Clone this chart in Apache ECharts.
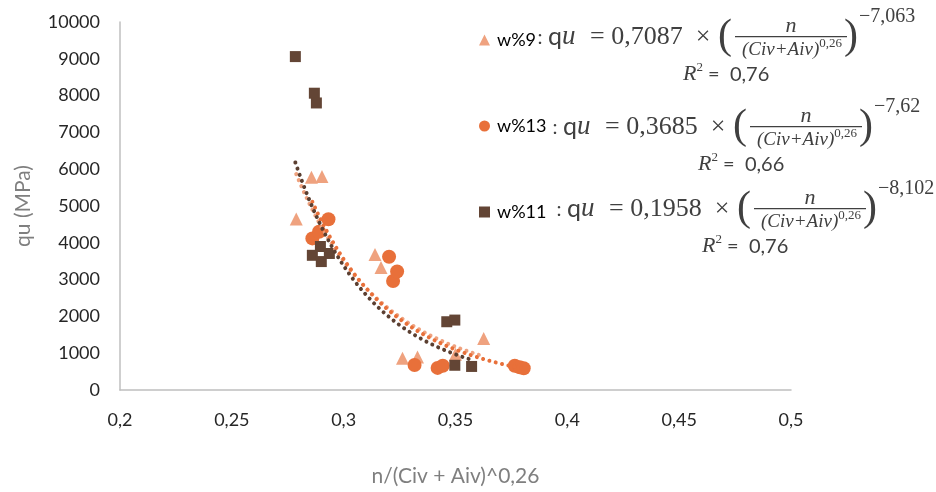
<!DOCTYPE html>
<html>
<head>
<meta charset="utf-8">
<script src="https://cdn.jsdelivr.net/npm/echarts@6/dist/echarts.min.js"></script>
<style>
  html, body { margin: 0; padding: 0; background: #ffffff; }
  #chart { width: 936px; height: 492px; }
</style>
</head>
<body>
<div id="chart"></div>
<script>
// Series names (legend order)
const seriesNames = ['w%9', 'w%13', 'w%11'];

// w%9 measurements
const w9X = [0.2788, 0.2856, 0.2903, 0.3140, 0.3167, 0.3263, 0.3330, 0.3500, 0.3626];
const w9Y = [4650, 5780, 5800, 3680, 3330, 860, 900, 970, 1400];

// w%13 measurements
const w13X = [0.2860, 0.2890, 0.2932, 0.3203, 0.3221, 0.3239, 0.3317, 0.3420, 0.3443, 0.3765, 0.3787, 0.3805];
const w13Y = [4120, 4300, 4640, 3620, 2960, 3220, 680, 600, 660, 660, 620, 590];

// w%11 measurements
const w11X = [0.2784, 0.2869, 0.2878, 0.2860, 0.2896, 0.2900, 0.2936, 0.3461, 0.3497, 0.3497, 0.3572];
const w11Y = [9060, 8065, 7800, 3660, 3900, 3490, 3710, 1855, 1900, 672, 640];

// Power-law fits qu = a * x^b and their R²
const fitCoef = [0.7087, 0.3685, 0.1958];
const fitExp = [-7.063, -7.62, -8.102];
const fitR2 = [0.76, 0.66, 0.76];

// Axis ticks
const xTickValues = [0.2, 0.25, 0.3, 0.35, 0.4, 0.45, 0.5];
const yTickValues = [0, 1000, 2000, 3000, 4000, 5000, 6000, 7000, 8000, 9000, 10000];

const xs = [w9X, w13X, w11X];
const ys = [w9Y, w13Y, w11Y];
const markColors = ['#EFA27F', '#E8703A', '#634535'];
const lineColors = ['#EFA27F', '#E8703A', '#5B3F31'];
const symbols = ['triangle', 'circle', 'rect'];
const symbolSizes = [13, 14, 11];

const comma = v => String(v).replace('.', ',');
const signed = v => (v < 0 ? '\u2212' + comma(-v) : comma(v));

function pairs(xArr, yArr) {
  return xArr.map((x, i) => [x, yArr[i]]);
}

// Trend curve from the fitted equation, spanning the series' x range
function trendCurve(i) {
  const lo = Math.min(...xs[i]);
  const hi = Math.max(...xs[i]);
  const n = 80;
  const pts = [];
  for (let k = 0; k <= n; k++) {
    const x = lo + (hi - lo) * k / n;
    pts.push([x, fitCoef[i] * Math.pow(x, fitExp[i])]);
  }
  return pts;
}

const scatterSeries = seriesNames.map((name, i) => ({
  name: name,
  type: 'scatter',
  data: pairs(xs[i], ys[i]),
  symbol: symbols[i],
  symbolSize: symbolSizes[i],
  itemStyle: { color: markColors[i], opacity: 1 },
  z: 2 + i,
  silent: true
}));

const trendSeries = seriesNames.map((name, i) => ({
  name: name + ' fit',
  type: 'line',
  data: trendCurve(i),
  showSymbol: false,
  smooth: false,
  lineStyle: { color: lineColors[i], width: 4, type: [0.01, 6.5], cap: 'round' },
  z: 10 + i,
  silent: true
}));

// Equation annotation blocks (anchor = left of "qu", vertical centre)
const eqAnchors = [[548, 37], [563, 127], [567, 209]];
const legendTops = [31, 117, 203];
const mathFont = '"Liberation Serif", "DejaVu Serif", serif';
const textColor = '#404040';

function equationBlock(i) {
  const bx = eqAnchors[i][0];
  const by = eqAnchors[i][1];
  const els = [];
  els.push({
    type: 'text', x: bx - 8, y: by + 1,
    style: { text: ':', font: '20px Lato, sans-serif', fill: textColor, align: 'center', verticalAlign: 'middle' }
  });
  els.push({
    type: 'text', x: bx, y: by,
    style: {
      text: '{q|q}{u|u}', align: 'left', verticalAlign: 'middle',
      rich: {
        q: { font: '25px Lato, sans-serif', fill: textColor },
        u: { font: 'italic 27px ' + mathFont, fill: textColor }
      }
    }
  });
  els.push({
    type: 'text', x: bx + 42, y: by,
    style: { text: '= ' + comma(fitCoef[i]) + '  \u00D7', font: '26px ' + mathFont, fill: textColor, align: 'left', verticalAlign: 'middle' }
  });
  els.push({
    type: 'text', x: bx + 177, y: by,
    style: { text: '(', font: '42px ' + mathFont, fill: textColor, align: 'center', verticalAlign: 'middle' }
  });
  els.push({
    type: 'text', x: bx + 303, y: by,
    style: { text: ')', font: '42px ' + mathFont, fill: textColor, align: 'center', verticalAlign: 'middle' }
  });
  els.push({
    type: 'rect', shape: { x: bx + 187, y: by - 1, width: 112, height: 1.2 },
    style: { fill: textColor }
  });
  els.push({
    type: 'text', x: bx + 243, y: by - 11,
    style: { text: 'n', font: 'italic 22px ' + mathFont, fill: textColor, align: 'center', verticalAlign: 'middle' }
  });
  els.push({
    type: 'text', x: bx + 244, y: by + 11,
    style: {
      text: '{d|(Civ+Aiv)}{p|0,26}', align: 'center', verticalAlign: 'middle',
      rich: {
        d: { font: 'italic 19px ' + mathFont, fill: textColor, lineHeight: 22, verticalAlign: 'bottom' },
        p: { font: '13px ' + mathFont, fill: textColor, verticalAlign: 'top', lineHeight: 14 }
      }
    }
  });
  els.push({
    type: 'text', x: bx + 311, y: by - 20,
    style: { text: signed(fitExp[i]), font: '20px ' + mathFont, fill: textColor, align: 'left', verticalAlign: 'middle' }
  });
  els.push({
    type: 'text', x: bx + 135, y: by + 36,
    style: {
      text: '{r|R}{s|2}{t| =  ' + comma(fitR2[i]) + '}', align: 'left', verticalAlign: 'middle',
      rich: {
        r: { font: 'italic 22px ' + mathFont, fill: textColor, lineHeight: 24, verticalAlign: 'bottom' },
        s: { font: '13px ' + mathFont, fill: textColor, verticalAlign: 'top', lineHeight: 14 },
        t: { font: '20px Lato, sans-serif', fill: textColor, lineHeight: 24, verticalAlign: 'bottom' }
      }
    }
  });
  return els;
}

const chart = echarts.init(document.getElementById('chart'), null, { renderer: 'canvas' });

chart.setOption({
  animation: false,
  backgroundColor: '#ffffff',
  grid: { left: 120, right: 145, top: 22, bottom: 98, containLabel: false },
  legend: seriesNames.map((name, i) => ({
    data: [{ name: name, icon: symbols[i] }],
    left: 479,
    top: legendTops[i],
    padding: 0,
    itemWidth: 11,
    itemHeight: 11,
    selectedMode: false,
    textStyle: { fontFamily: 'Lato, sans-serif', fontSize: 18, color: '#000000', padding: [0, 0, 0, 2] }
  })),
  xAxis: {
    type: 'value',
    min: xTickValues[0],
    max: xTickValues[xTickValues.length - 1],
    interval: xTickValues[1] - xTickValues[0],
    name: 'n/(Civ + Aiv)^0,26',
    nameLocation: 'middle',
    nameGap: 76,
    nameTextStyle: { fontFamily: 'Lato, sans-serif', fontSize: 21, color: '#7F7F7F' },
    axisLine: { show: true, onZero: false, lineStyle: { color: '#BFBFBF', width: 1.5 } },
    axisTick: { show: false },
    splitLine: { show: false },
    axisLabel: {
      margin: 21,
      fontFamily: 'Lato, sans-serif', fontSize: 18, color: '#262626',
      formatter: v => comma(+v.toFixed(2))
    }
  },
  yAxis: {
    type: 'value',
    min: yTickValues[0],
    max: yTickValues[yTickValues.length - 1],
    interval: yTickValues[1] - yTickValues[0],
    name: 'qu (MPa)',
    nameLocation: 'middle',
    nameGap: 86,
    nameTextStyle: { fontFamily: 'Lato, sans-serif', fontSize: 21, color: '#7F7F7F' },
    axisLine: { show: true, lineStyle: { color: '#BFBFBF', width: 1.5 } },
    axisTick: { show: false },
    splitLine: { show: false },
    axisLabel: {
      margin: 20,
      fontFamily: 'Lato, sans-serif', fontSize: 18, color: '#262626',
      formatter: v => String(v)
    }
  },
  series: scatterSeries.concat(trendSeries),
  graphic: [].concat(equationBlock(0), equationBlock(1), equationBlock(2))
});
</script>
</body>
</html>
